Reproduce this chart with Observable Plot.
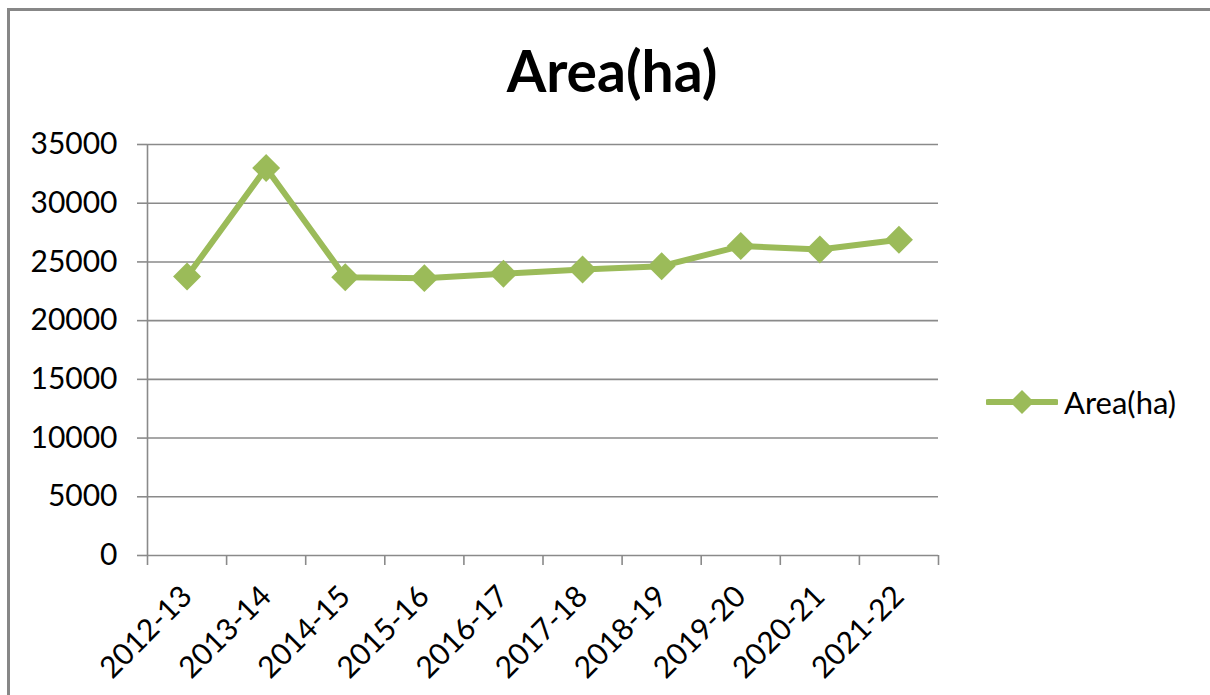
<!DOCTYPE html>
<html>
<head>
<meta charset="utf-8">
<script src="https://cdn.jsdelivr.net/npm/d3@7"></script>
<script src="https://cdn.jsdelivr.net/npm/@observablehq/plot@0.6"></script>
<style>
  html, body { margin: 0; padding: 0; background: #fff; }
  #chart { position: relative; width: 1210px; height: 695px; overflow: hidden; font-family: Lato, "Open Sans", sans-serif; }
  #frame { position: absolute; left: 7px; top: 8px; width: 1400px; height: 900px;
           border-left: 3px solid #878787; border-top: 3px solid #878787; }
  #title { position: absolute; left: 0; width: 1224px; top: 42px; text-align: center;
           font-size: 57px; font-weight: 700; color: #000; line-height: 1; }
  #legend { position: absolute; left: 986px; top: 383px; display: flex; align-items: center;
            font-size: 31px; color: #000; }
  #legend svg { margin-right: 6px; }
  #plot { position: absolute; left: 0; top: 0; }
</style>
</head>
<body>
<div id="chart">
  <div id="frame"></div>
  <div id="plot"></div>
  <div id="title">Area(ha)</div>
  <div id="legend">
    <svg width="72" height="30" viewBox="0 0 72 30">
      <line x1="2" y1="15" x2="70" y2="15" stroke="#9bbb59" stroke-width="6" stroke-linecap="round"></line>
      <path d="M36 3 L48 15 L36 27 L24 15 Z" fill="#9bbb59"></path>
    </svg>
    <span>Area(ha)</span>
  </div>
</div>
<script>
// Cultivated area by agricultural year, in hectares
const years = ["2012-13", "2013-14", "2014-15", "2015-16", "2016-17",
               "2017-18", "2018-19", "2019-20", "2020-21", "2021-22"];
const areaHa = [23750, 33000, 23700, 23620, 24000, 24360, 24640, 26350, 26060, 26890];
const yTicks = [0, 5000, 10000, 15000, 20000, 25000, 30000, 35000];

const rows = years.map((year, i) => ({i, year, area: areaHa[i]}));
const green = "#9bbb59";
const gray = "#8a8a8a";
// category slots are indexed 0..n-1; boundaries sit halfway between them
const slotEdges = d3.range(years.length + 1).map(k => k - 0.5);

const chart = Plot.plot({
  width: 1210,
  height: 695,
  marginTop: 144,
  marginBottom: 140,
  marginLeft: 147,
  marginRight: 272,
  style: {fontFamily: "Lato, 'Open Sans', sans-serif", color: "#000", background: "transparent"},
  x: {type: "linear", domain: [-0.5, years.length - 0.5]},
  y: {domain: [0, 35000]},
  marks: [
    Plot.gridY(yTicks, {stroke: gray, strokeOpacity: 1, strokeWidth: 1.6}),
    Plot.ruleX([-0.5], {stroke: gray, strokeWidth: 1.6}),
    Plot.axisY(yTicks, {tickSize: 10, tickPadding: 20, fontSize: 30, stroke: gray, strokeWidth: 1.6,
                        tickFormat: d => String(d), label: null}),
    Plot.axisX(slotEdges, {tickSize: 10, stroke: gray, strokeWidth: 1.6, tickFormat: () => "", label: null}),
    Plot.axisX(d3.range(years.length), {tickSize: 0, tickPadding: 36, tickRotate: -45, fontSize: 30,
                                        tickFormat: i => years[i], label: null}),
    Plot.line(rows, {x: "i", y: "area", stroke: green, strokeWidth: 6, strokeLinejoin: "miter"}),
    Plot.dot(rows, {x: "i", y: "area", symbol: "diamond2", r: 12.6, fill: green, stroke: "none"})
  ]
});
document.getElementById("plot").appendChild(chart);
</script>
</body>
</html>
